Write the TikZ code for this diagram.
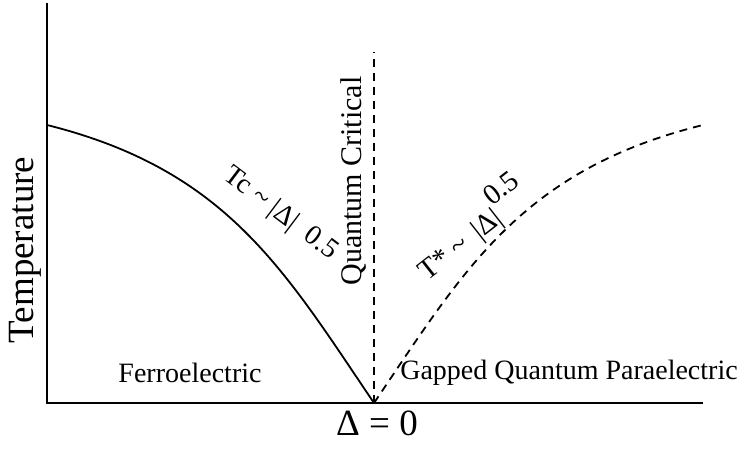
\documentclass[tikz,border=0pt]{standalone}
\usepackage{fontspec}
\setmainfont{Liberation Serif}
\usetikzlibrary{calc}
\tikzset{
  % Axes of the phase diagram.
  axis/.style={draw=black, line width=2pt},
  % Ordered phase boundary (solid) and crossover lines (dashed).
  boundary/.style={draw=black, line width=1.8pt},
  crossover/.style={draw=black, line width=1.8pt, dash pattern=on 8pt off 6pt},
  % Text labels.
  region-label/.style={font=\fontsize{28}{30}\selectfont, inner sep=0pt},
  axis-label/.style={font=\fontsize{37}{40}\selectfont, inner sep=0pt},
  curve-label/.style={font=\fontsize{29}{31}\selectfont, inner sep=0pt},
}

\begin{document}
\begin{tikzpicture}[x=1pt, y=1pt]
  \useasboundingbox (0,0) rectangle (742,450);

  % Reference points.
  \coordinate (origin) at (47,47);
  \coordinate (tmax)   at (47,447);
  \coordinate (dmax)   at (703,47);
  \coordinate (qcp)    at (374,47);
  \coordinate (tc0)    at (47,325);
  \coordinate (qctop)  at (374,398);
  \coordinate (tsend)  at (703,325);

  % Axes.
  \draw[axis] (tmax) -- (origin) -- (dmax);

  % Tc line on the ordered side, T* crossover on the gapped side.
  \draw[boundary] (tc0) .. controls (227,280) and (284,180) .. (qcp);
  \draw[crossover] (qcp) .. controls (464,180) and (521,280) .. (tsend);
  \draw[crossover] (qcp) -- (qctop);

  % Axis labels.
  \node[axis-label, rotate=90] (temp) at (25,200) {Temperature};
  \node[axis-label] (delta) at (377,27) {Δ = 0};

  % Region labels.
  \node[region-label] (ferro) at (190,77) {Ferroelectric};
  \node[region-label] (para) at (569,77) {Gapped Quantum Paraelectric};
  \node[region-label, font=\fontsize{30}{32}\selectfont, rotate=90] (qc) at (354,269) {Quantum Critical};

  % Scaling laws along the lines.
  \node[curve-label, font=\fontsize{28}{30}\selectfont, rotate=-37] (tclaw) at (280.5,236) {Tc \textasciitilde\ |Δ|\enspace0.5};
  \node[curve-label, rotate=38] (tslaw) at (470,222) {T* \textasciitilde{} \,|Δ|\raisebox{0.65em}{0.5}};

\end{tikzpicture}
\end{document}
